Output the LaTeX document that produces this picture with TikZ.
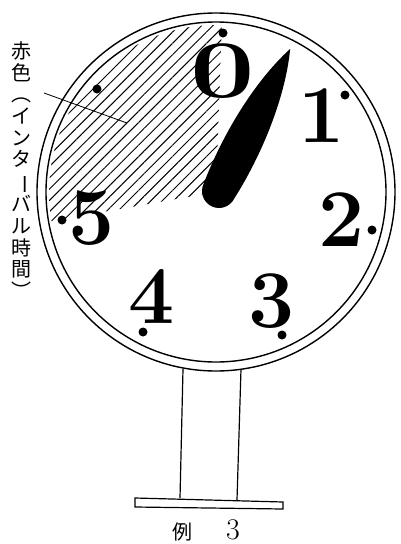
\documentclass[tikz,border=0pt]{standalone}
\usepackage{fontspec}
\newfontfamily\cjk{Noto Sans CJK JP}
\usetikzlibrary{patterns.meta}

\begin{document}
\begin{tikzpicture}[
    x=1pt, y=1pt,
    ring/.style={line width=1.4pt},
    numeral/.style={font=\fontsize{82}{82}\selectfont\bfseries, inner sep=0pt},
    tick/.style={fill, circle, inner sep=0pt, minimum size=9pt},
    hatch/.style={pattern={Lines[angle=45, distance=8pt, line width=1pt]}},
    stand/.style={line width=1.2pt}
]
\useasboundingbox (0,0) rectangle (401,-544);

% Dial face with the red (interval) sector
\coordinate (hub) at (216,-192);
\fill[hatch] (hub) -- ++(88:167) arc[start angle=88, end angle=190, radius=167] -- cycle;
\draw[ring] (hub) circle[radius=179];
\draw[ring] (hub) circle[radius=170];

% Dots
\node[tick] (d0) at (223,-33) {};
\node[tick] (d1) at (345,-95) {};
\node[tick] (d2) at (372,-230) {};
\node[tick] (d3) at (282,-335) {};
\node[tick] (d4) at (143,-332) {};
\node[tick] (d5) at (62,-220) {};
\node[tick] (d6) at (97,-89) {};

% Numerals
\node[numeral, xscale=1.4] (n0) at (223,-71) {0};
\node[numeral] (n1) at (322,-116) {1};
\node[numeral] (n2) at (342,-220) {2};
\node[numeral] (n3) at (272,-301) {3};
\node[numeral] (n4) at (152,-297) {4};
\node[numeral] (n5) at (92,-218) {5};

% Hand
\begin{scope}[shift={(219,-191)}, rotate=63.4]
\fill (159,0) .. controls (112,18) and (50,22) .. (0,17)
      arc[start angle=90, end angle=270, radius=17]
      .. controls (50,-22) and (112,-18) .. (159,0) -- cycle;
\end{scope}

% Stand
\draw[stand] (183,-369) -- (180,-498);
\draw[stand] (241,-369) -- (237,-500);
\draw[stand] (135,-498) -- (283,-502) -- (283,-509) -- (135,-507) -- cycle;

% Label
\node[font=\cjk\fontsize{20}{21.7}\selectfont, align=center, inner sep=0pt] (akairo) at (22,-170)
    {赤\\色\\︵\\イ\\ン\\タ\\\rotatebox[origin=c]{-90}{ー}\\バ\\ル\\時\\間\\︶};
\coordinate (leadfrom) at (44,-93);
\coordinate (leadto) at (127,-123);
\draw[line width=0.8pt] (leadfrom) -- (leadto);

\node[font=\fontsize{20}{20}\selectfont] (caption) at (206,-530)
    {{\cjk 例}\hspace{1.7em}{\fontsize{30}{30}\selectfont 3}};
\end{tikzpicture}
\end{document}
